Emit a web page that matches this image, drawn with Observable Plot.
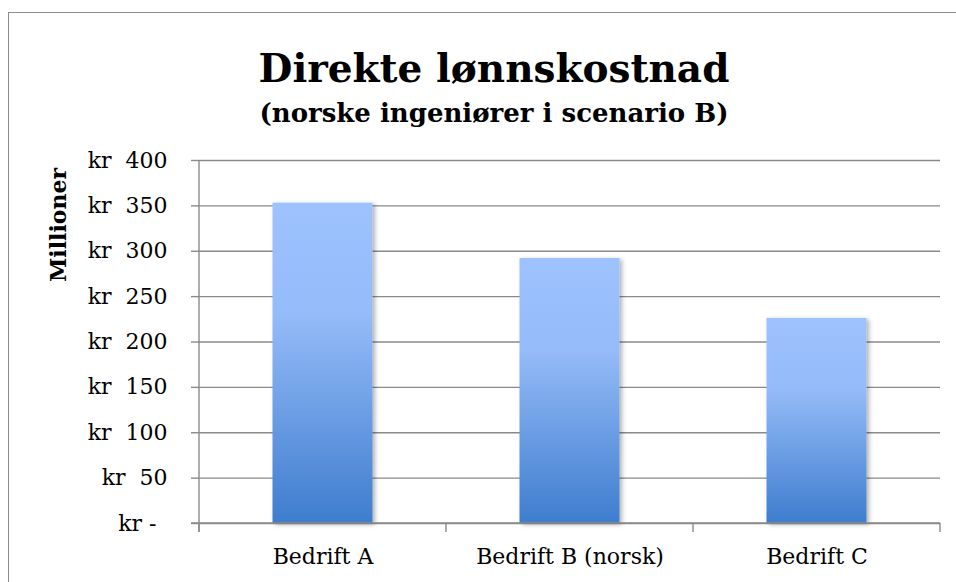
<!DOCTYPE html>
<html>
<head>
<meta charset="utf-8">
<script src="https://cdn.jsdelivr.net/npm/d3@7"></script>
<script src="https://cdn.jsdelivr.net/npm/@observablehq/plot@0.6"></script>
<style>
  html, body { margin: 0; padding: 0; background: #fff; overflow: hidden; }
  #wrap { position: relative; width: 956px; height: 582px; overflow: hidden; background: #fff; }
  #box { position: absolute; left: 8px; top: 12px; width: 980px; height: 640px; border: 1.5px solid #8c8c8c; box-sizing: border-box; }
  .t { position: absolute; left: 16px; width: 956px; text-align: center; font-family: "DejaVu Serif", serif; font-weight: bold; color: #000; line-height: 1; white-space: nowrap; }
  #title { top: 49px; font-size: 39px; }
  #subtitle { top: 100px; font-size: 26px; }
  #chart { position: absolute; left: 0; top: 140px; }
  #ylab { position: absolute; left: 58px; top: 225px; transform: translate(-50%, -50%) rotate(-90deg); font-family: "DejaVu Serif", serif; font-weight: bold; font-size: 22px; white-space: nowrap; }
</style>
</head>
<body>
<div id="wrap">
  <div id="box"></div>
  <div class="t" id="title">Direkte lønnskostnad</div>
  <div class="t" id="subtitle">(norske ingeniører i scenario B)</div>
  <div id="ylab">Millioner</div>
  <div id="chart"></div>
</div>
<script>
const categories = ["Bedrift A", "Bedrift B (norsk)", "Bedrift C"];
const values = [353, 292, 226];
const yTicks = [0, 50, 100, 150, 200, 250, 300, 350, 400];
const yTickLabels = ["kr -\u2002", "kr\u00a0\u00a050", "kr\u00a0\u00a0100", "kr\u00a0\u00a0150", "kr\u00a0\u00a0200", "kr\u00a0\u00a0250", "kr\u00a0\u00a0300", "kr\u00a0\u00a0350", "kr\u00a0\u00a0400"];

const data = categories.map((c, i) => ({category: c, value: values[i]}));

const plot = Plot.plot({
  width: 956,
  height: 442,
  marginLeft: 199,
  marginRight: 16,
  marginTop: 20,
  marginBottom: 59,
  style: {fontFamily: "DejaVu Serif, serif", fontSize: "22px", color: "#000", background: "transparent", overflow: "visible"},
  x: {domain: categories, padding: 0, tickSize: 0, tickPadding: 25, label: null},
  y: {domain: [0, 400], ticks: yTicks, tickSize: 8, tickPadding: 24, label: null,
      tickFormat: d => yTickLabels[yTicks.indexOf(d)]},
  marks: [
    Plot.ruleY(yTicks, {stroke: "#8a8a8a", strokeWidth: 1.4}),
    Plot.barY(data, {x: "category", y: "value", fill: "url(#barGrad)", insetLeft: 73.5, insetRight: 73.5})
  ]
});

document.getElementById("chart").appendChild(plot);

const svg = d3.select(plot);
const defs = svg.insert("defs", ":first-child");
const g = defs.append("linearGradient").attr("id", "barGrad").attr("x1", 0).attr("y1", 0).attr("x2", 0).attr("y2", 1);
g.append("stop").attr("offset", "0%").attr("stop-color", "#9dc2fe");
g.append("stop").attr("offset", "35%").attr("stop-color", "#95bbf8");
g.append("stop").attr("offset", "100%").attr("stop-color", "#3e7dce");
const f = defs.append("filter").attr("id", "shadow").attr("x", "-10%").attr("y", "-10%").attr("width", "130%").attr("height", "130%");
f.append("feDropShadow").attr("dx", 2.5).attr("dy", 1.5).attr("stdDeviation", 2).attr("flood-color", "#000").attr("flood-opacity", 0.3);
svg.selectAll("rect").filter(function() { return this.getAttribute("fill") === "url(#barGrad)" || (this.parentNode && this.parentNode.getAttribute("fill") === "url(#barGrad)"); })
  .attr("filter", "url(#shadow)");

// axis tick strokes gray
svg.selectAll("g").filter(function() { const a = this.getAttribute("aria-label") || ""; return a.startsWith("y-axis") || a.startsWith("x-axis"); })
  .selectAll("line, path").attr("stroke", "#8a8a8a").attr("stroke-width", 1.4);
svg.selectAll("text").attr("fill", "#000");

// axis lines and category-boundary ticks from the scales
const xs = plot.scale("x");
const ys = plot.scale("y");
const y0 = ys.apply(0);
const yTop = ys.apply(400);
const bounds = categories.map(c => xs.apply(c)).concat([xs.apply(categories[categories.length - 1]) + xs.bandwidth]);
const axes = svg.append("g").attr("stroke", "#8a8a8a").attr("stroke-width", 1.4).attr("fill", "none");
axes.append("line").attr("x1", bounds[0]).attr("x2", bounds[0]).attr("y1", yTop).attr("y2", y0 + 9);
axes.append("line").attr("x1", bounds[0] - 8).attr("x2", bounds[bounds.length - 1]).attr("y1", y0).attr("y2", y0);
bounds.forEach(b => axes.append("line").attr("x1", b).attr("x2", b).attr("y1", y0).attr("y2", y0 + 9));
</script>
</body>
</html>
